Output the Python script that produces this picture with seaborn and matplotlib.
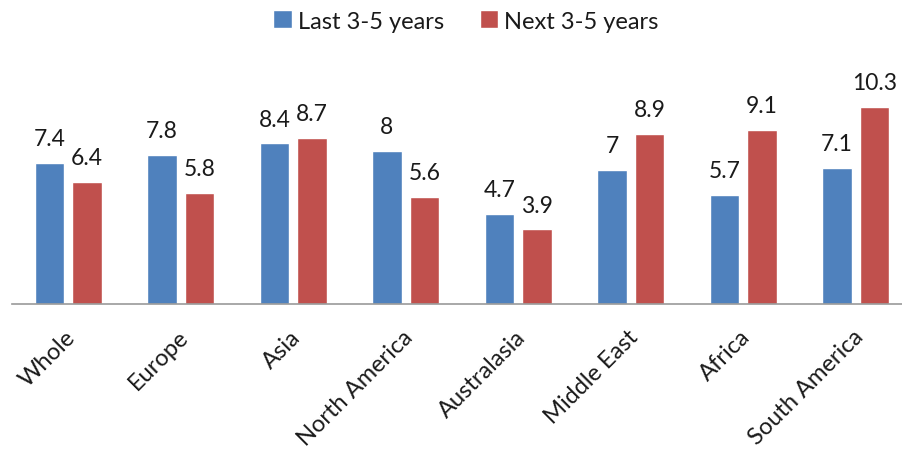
import matplotlib
matplotlib.use("Agg")
import matplotlib.pyplot as plt
import matplotlib.transforms as mtransforms
import seaborn as sns
import pandas as pd

categories = ["Whole", "Europe", "Asia", "North America", "Australasia",
              "Middle East", "Africa", "South America"]
last_3_5 = [7.4, 7.8, 8.4, 8.0, 4.7, 7.0, 5.7, 7.1]
next_3_5 = [6.4, 5.8, 8.7, 5.6, 3.9, 8.9, 9.1, 10.3]
series_names = ["Last 3-5 years", "Next 3-5 years"]
colors = ["#4F81BD", "#C0504D"]

df = pd.DataFrame({
    "Region": categories * 2,
    "Value": last_3_5 + next_3_5,
    "Period": [series_names[0]] * len(categories) + [series_names[1]] * len(categories),
})

sns.set_theme(style="white")
plt.rcParams["font.family"] = ["Lato", "DejaVu Sans"]

W, H = 902, 452
fig = plt.figure(figsize=(W / 100, H / 100), dpi=100)
ax = fig.add_axes([12 / W, 1 - 305 / H, 1 - 12 / W, 305 / H])

sns.barplot(data=df, x="Region", y="Value", hue="Period", order=categories,
            hue_order=series_names, palette=colors, width=0.67, gap=0.22,
            saturation=1, ax=ax, legend=True)

for cont in ax.containers:
    ax.bar_label(cont, fmt="%g", padding=10, fontsize=16.5, color="#1a1a1a")

ax.set_xlim(-0.5, -0.5 + 890 / 112.5)
ax.set_ylim(0, 305 / 19.12)
ax.set_xlabel("")
ax.set_ylabel("")
ax.set_yticks([])
for s in ["top", "right", "left"]:
    ax.spines[s].set_visible(False)
ax.spines["bottom"].set_color("#999999")
ax.spines["bottom"].set_linewidth(1.2)

ax.tick_params(axis="x", length=0, pad=21)
offset = mtransforms.ScaledTranslation(4 / 100, 0, fig.dpi_scale_trans)
for lbl in ax.get_xticklabels():
    lbl.set_rotation(45)
    lbl.set_ha("right")
    lbl.set_va("center")
    lbl.set_rotation_mode("anchor")
    lbl.set_fontsize(17)
    lbl.set_color("#1a1a1a")
    lbl.set_transform(lbl.get_transform() + offset)

ax.get_legend().remove()
handles, labels = ax.get_legend_handles_labels()
fig.legend(handles[:2], labels[:2], loc="center", bbox_to_anchor=(466 / W, 1 - 22 / H),
           ncol=2, frameon=False, fontsize=17, handlelength=0.8, handleheight=0.8,
           handletextpad=0.25, columnspacing=1.5, labelcolor="#1a1a1a")

fig.savefig("out.png", dpi=100)
